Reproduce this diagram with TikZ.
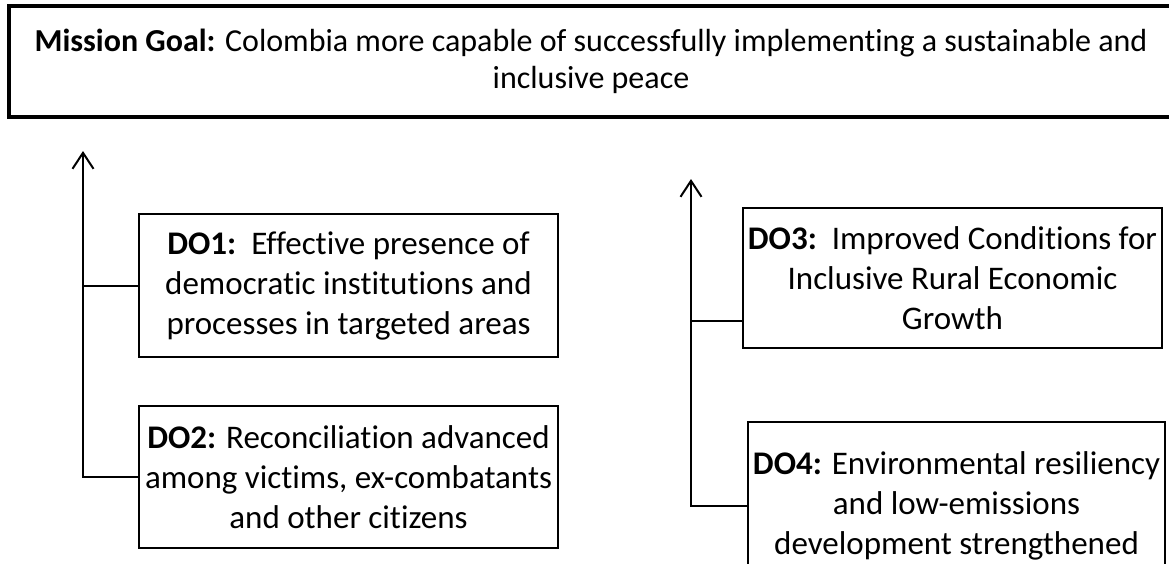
\documentclass[tikz,border=0pt]{standalone}
\usepackage{fontspec}
\setmainfont[Ligatures=NoCommon]{Carlito}
\usetikzlibrary{arrows.meta}
\tikzset{
  dobox/.style={draw, line width=2pt, minimum width=419pt, align=center, inner sep=0pt,
    font=\fontsize{33}{40}\selectfont},
  goalbox/.style={draw, line width=4.5pt, minimum width=1164pt, minimum height=111pt, align=center, inner sep=0pt,
    font=\fontsize{32}{37}\selectfont},
  link/.style={line width=2pt},
  uparrow/.style={line width=2pt, -{Straight Barb[length=16pt, width=21pt, line width=2pt]}}
}
\begin{document}
\begin{tikzpicture}[x=1pt,y=-1pt]
\useasboundingbox (0,0) rectangle (1169,563);
\clip (0,0) rectangle (1169,563);
\node[goalbox] (goal) at (591,61.5) {\textbf{Mission Goal:} Colombia more capable of successfully implementing a sustainable and\\inclusive peace};
\node[dobox, minimum height=143pt] (do1) at (348.5,285.5) {\textbf{DO1:}\ \ Effective presence of\\democratic institutions and\\processes in targeted areas};
\node[dobox, minimum height=142pt] (do2) at (348.5,477) {\textbf{DO2:} Reconciliation advanced\\among victims, ex-combatants\\and other citizens};
\node[dobox, minimum height=140pt] (do3) at (952.5,278) {\textbf{DO3:}\ \ Improved Conditions for\\Inclusive Rural Economic\\Growth};
\node[dobox, minimum width=417pt, minimum height=168pt] (do4) at (956.5,506) {\textbf{DO4:} Environmental resiliency\\and low-emissions\\development strengthened};
% left branch
\coordinate (tipL) at (83,151);
\draw[uparrow] (do2.west) -| (tipL);
\draw[link] (do1.west) -- (do1.west -| tipL);
% right branch
\coordinate (tipR) at (691,179);
\coordinate (j3) at (691,321);
\coordinate (j4) at (691,506);
\draw[uparrow] (do4.west |- j4) -- (j4) -- (tipR);
\draw[link] (j3) -- (do3.west |- j3);
\end{tikzpicture}
\end{document}
